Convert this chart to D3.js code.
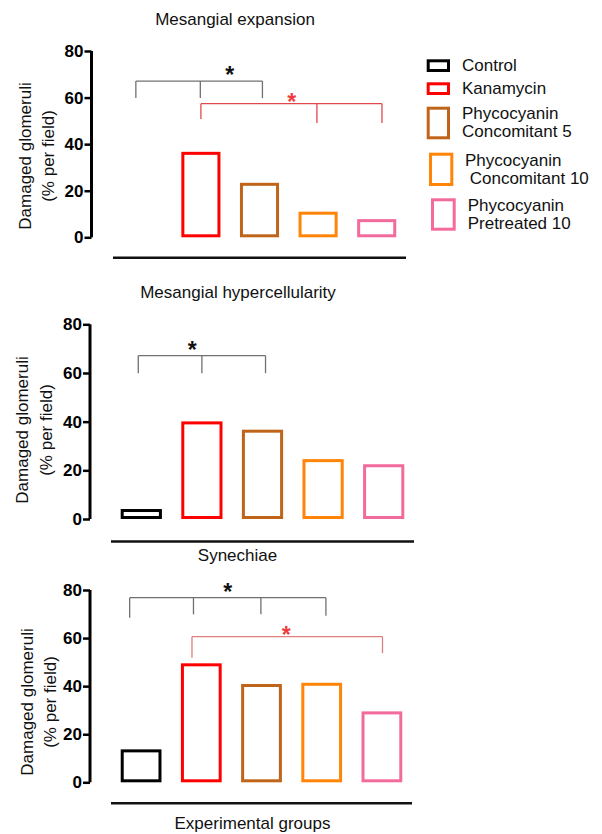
<!DOCTYPE html>
<html><head><meta charset="utf-8">
<script src="https://cdn.jsdelivr.net/npm/d3@7"></script>
<style>html,body{margin:0;padding:0;background:#fff;}svg{display:block;}</style>
</head><body>
<script>
// ---------- DATA ----------
const groups = ["Control","Kanamycin","Phycocyanin Concomitant 5","Phycocyanin Concomitant 10","Phycocyanin Pretreated 10"];
const colors = ["#000000","#ff0000","#bf6419","#ff8408","#f26b9c"];
const legendLines = [["Control"],["Kanamycin"],["Phycocyanin","Concomitant 5"],["Phycocyanin"," Concomitant 10"],["Phycocyanin","Pretreated 10"]];
const titles = ["Mesangial expansion","Mesangial hypercellularity","Synechiae"];
const yTicks = [0,20,40,60,80];
const mesangialExpansion = [0, 36.7, 23.4, 11.0, 7.8];
const mesangialHypercellularity = [4.1, 40.1, 36.7, 24.6, 22.5];
const synechiae = [13.7, 49.5, 40.9, 41.4, 29.5];
const seriesValues = [mesangialExpansion, mesangialHypercellularity, synechiae];
// significance brackets: tick positions in category-index units, bar level, drop levels, star position
const brackets = [
  [ {color:"#707070", star:"#111", ticks:[-0.11,0.99,2.05], drops:[59.8,59.8,59.8], level:67.1, starAt:[1.49,71.8]},
    {color:"#e4474b", star:"#f03c3c", ticks:[1.0,2.98,4.09], drops:[50.8,49.1,49.1], level:57.4, starAt:[2.55,60.2]} ],
  [ {color:"#707070", star:"#111", ticks:[-0.05,1.0,2.05], drops:[59.9,59.9,59.9], level:67.1, starAt:[0.84,71.5]} ],
  [ {color:"#707070", star:"#111", ticks:[-0.19,0.87,1.99,3.07], drops:[68.5,69.9,69.9,69.3], level:76.8, starAt:[1.44,81.2]},
    {color:"#dd7f80", star:"#f03c3c", ticks:[0.845,4.01], drops:[51.8,53.7], level:60.6, starAt:[2.41,63.4]} ]
];
const yLabel = ["Damaged glomeruli","(% per field)"];
const xLabel = "Experimental groups";

// ---------- LAYOUT ----------
const W = 602, H = 834;
const FONT = "'Liberation Sans', Arial, sans-serif";
const panels = [
  {axisX:91.5, yTop:51, yBot:237.3, xr:[113,406], pad:0.333, base:257.7, titleY:25, titleX:235, labY:156, labX:[25,48]},
  {axisX:90,   yTop:324.3, yBot:519, xr:[111,414], pad:0.32, base:541.5, titleY:298, titleX:238, labY:430, labX:[22,46]},
  {axisX:90,   yTop:590, yBot:782.3, xr:[111,412], pad:0.323, base:803.3, titleY:561, titleX:237.5, labY:702, labX:[27,50]}
];

const svg = d3.select("body").append("svg").attr("width",W).attr("height",H)
  .style("font-family",FONT);

panels.forEach((p,pi)=>{
  const g = svg.append("g");
  const y = d3.scaleLinear().domain([0,80]).range([p.yBot,p.yTop]);
  const x = d3.scaleBand().domain(groups).range(p.xr).paddingInner(p.pad).paddingOuter(p.pad/2);
  const xi = d3.scaleLinear().domain([0,4]).range([x(groups[0])+x.bandwidth()/2, x(groups[4])+x.bandwidth()/2]);

  g.append("text").attr("x",p.titleX).attr("y",p.titleY).attr("text-anchor","middle")
    .attr("font-size",17).attr("fill","#111").text(titles[pi]);

  const ax = g.append("g").attr("transform",`translate(${p.axisX},0)`)
    .call(d3.axisLeft(y).tickValues(yTicks).tickSize(7).tickPadding(1).tickFormat(d3.format("d")));
  ax.select(".domain").attr("stroke","#000").attr("stroke-width",3).attr("d",`M0,${p.yTop}V${p.yBot}`);
  ax.selectAll(".tick line").attr("stroke","#000").attr("stroke-width",2.5);
  ax.selectAll(".tick text").attr("font-size",17).attr("font-weight","bold").attr("fill","#000")
    .attr("font-family",FONT);

  yLabel.forEach((t,i)=>{
    g.append("text").attr("transform",`translate(${p.labX[i]},${p.labY}) rotate(-90)`)
      .attr("text-anchor","middle").attr("dominant-baseline","central")
      .attr("font-size",17).attr("fill","#111").text(t);
  });

  g.append("line").attr("x1",p.xr[0]).attr("x2",p.xr[1]).attr("y1",p.base).attr("y2",p.base)
    .attr("stroke","#111").attr("stroke-width",2.5);

  const vals = seriesValues[pi];
  g.selectAll("rect.bar").data(groups.map((k,i)=>({k,v:vals[i],c:colors[i]})).filter(d=>d.v>0))
    .join("rect").attr("class","bar")
    .attr("x",d=>x(d.k)+1.5).attr("width",x.bandwidth()-3)
    .attr("y",d=>y(d.v)+1.5).attr("height",d=>Math.max(0,y(0)-y(d.v)-3))
    .attr("fill","none").attr("stroke",d=>d.c).attr("stroke-width",3);

  brackets[pi].forEach(b=>{
    const xs = b.ticks.map(t=>xi(t));
    g.append("line").attr("x1",xs[0]).attr("x2",xs[xs.length-1]).attr("y1",y(b.level)).attr("y2",y(b.level))
      .attr("stroke",b.color).attr("stroke-width",1.3);
    xs.forEach((xx,i)=>{
      g.append("line").attr("x1",xx).attr("x2",xx).attr("y1",y(b.level)).attr("y2",y(b.drops[i]))
        .attr("stroke",b.color).attr("stroke-width",1.3);
    });
    g.append("text").attr("x",xi(b.starAt[0])).attr("y",y(b.starAt[1])+13)
      .attr("text-anchor","middle").attr("font-size",23).attr("font-weight","bold")
      .attr("fill",b.star).text("*");
  });
});

svg.append("text").attr("x",252.5).attr("y",829).attr("text-anchor","middle")
  .attr("font-size",17).attr("fill","#111").text(xLabel);

const legendBoxes = [
  {x:426.7,y:59.3,w:23.3,h:12.7,tx:462,ty:[65.5]},
  {x:426.7,y:82.3,w:23.3,h:12.7,tx:462,ty:[88.5]},
  {x:426.7,y:106.7,w:23.3,h:32.6,tx:462,ty:[113.5,131.7]},
  {x:429,y:152.7,w:24.3,h:33.3,tx:465,ty:[160,178.3]},
  {x:431,y:198.3,w:24.7,h:32.4,tx:467.7,ty:[205,223.3]}
];
const lg = svg.append("g");
legendBoxes.forEach((b,i)=>{
  lg.append("rect").attr("x",b.x+1.5).attr("y",b.y+1.5).attr("width",b.w-3).attr("height",b.h-3)
    .attr("fill","none").attr("stroke",colors[i]).attr("stroke-width",3);
  legendLines[i].forEach((t,j)=>{
    lg.append("text").attr("x",b.tx).attr("y",b.ty[j]).attr("dominant-baseline","central")
      .attr("font-size",17).attr("fill","#111").attr("xml:space","preserve").style("white-space","pre").text(t);
  });
});
</script>
</body></html>
